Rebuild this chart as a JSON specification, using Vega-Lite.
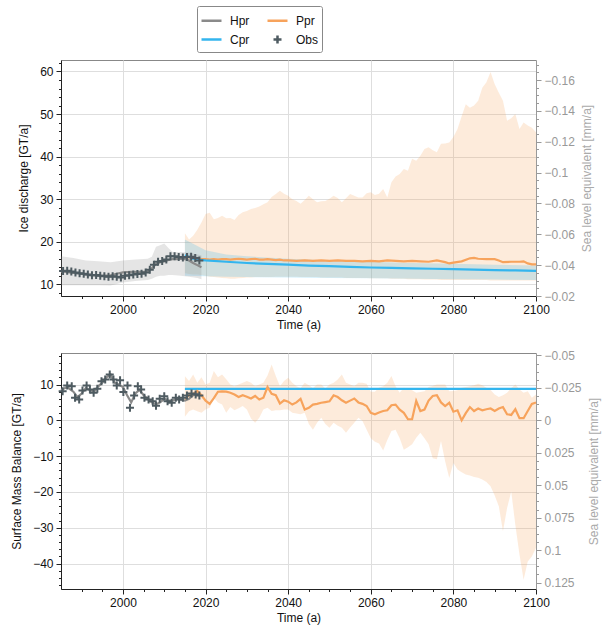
{
  "$schema": "https://vega.github.io/schema/vega-lite/v6.json",
  "padding": {"left": 10, "top": 5, "right": 5, "bottom": 5},
  "autosize": {"type": "pad"},
  "spacing": 57,
  "bounds": "flush",
  "datasets": {
    "topBands": [
      {"series":"Ppr","year":2015,"lo":12.6,"hi":22.0},{"series":"Ppr","year":2016,"lo":12.4,"hi":20.5},{"series":"Ppr","year":2017,"lo":12.3,"hi":21.4},{"series":"Ppr","year":2018,"lo":12.3,"hi":22.8},{"series":"Ppr","year":2019,"lo":12.2,"hi":24.5},{"series":"Ppr","year":2020,"lo":12.0,"hi":26.5},{"series":"Ppr","year":2021,"lo":11.8,"hi":26.8},{"series":"Ppr","year":2022,"lo":11.7,"hi":25.3},{"series":"Ppr","year":2023,"lo":11.6,"hi":25.6},{"series":"Ppr","year":2024,"lo":11.5,"hi":26.1},{"series":"Ppr","year":2025,"lo":11.4,"hi":25.5},{"series":"Ppr","year":2026,"lo":11.3,"hi":25.6},{"series":"Ppr","year":2027,"lo":11.3,"hi":25.1},{"series":"Ppr","year":2028,"lo":11.4,"hi":26.3},{"series":"Ppr","year":2029,"lo":11.5,"hi":26.9},{"series":"Ppr","year":2030,"lo":11.6,"hi":27.2},{"series":"Ppr","year":2031,"lo":11.6,"hi":27.7},{"series":"Ppr","year":2032,"lo":11.7,"hi":27.9},{"series":"Ppr","year":2033,"lo":11.7,"hi":28.3},{"series":"Ppr","year":2034,"lo":11.7,"hi":28.8},{"series":"Ppr","year":2035,"lo":11.7,"hi":29.3},{"series":"Ppr","year":2036,"lo":11.7,"hi":30.5},{"series":"Ppr","year":2037,"lo":11.8,"hi":31.2},{"series":"Ppr","year":2038,"lo":11.8,"hi":32.0},{"series":"Ppr","year":2039,"lo":11.8,"hi":31.3},{"series":"Ppr","year":2040,"lo":11.8,"hi":30.8},{"series":"Ppr","year":2041,"lo":11.8,"hi":30.0},{"series":"Ppr","year":2042,"lo":11.8,"hi":29.6},{"series":"Ppr","year":2043,"lo":11.7,"hi":28.9},{"series":"Ppr","year":2044,"lo":11.7,"hi":29.8},{"series":"Ppr","year":2045,"lo":11.7,"hi":30.8},{"series":"Ppr","year":2046,"lo":11.7,"hi":30.0},{"series":"Ppr","year":2047,"lo":11.7,"hi":29.3},{"series":"Ppr","year":2048,"lo":11.6,"hi":29.5},{"series":"Ppr","year":2049,"lo":11.6,"hi":29.6},{"series":"Ppr","year":2050,"lo":11.6,"hi":30.1},{"series":"Ppr","year":2051,"lo":11.6,"hi":30.8},{"series":"Ppr","year":2052,"lo":11.6,"hi":30.3},{"series":"Ppr","year":2053,"lo":11.6,"hi":29.3},{"series":"Ppr","year":2054,"lo":11.5,"hi":30.2},{"series":"Ppr","year":2055,"lo":11.5,"hi":31.2},{"series":"Ppr","year":2056,"lo":11.5,"hi":30.8},{"series":"Ppr","year":2057,"lo":11.5,"hi":30.4},{"series":"Ppr","year":2058,"lo":11.5,"hi":30.4},{"series":"Ppr","year":2059,"lo":11.5,"hi":31.4},{"series":"Ppr","year":2060,"lo":11.4,"hi":31.6},{"series":"Ppr","year":2061,"lo":11.4,"hi":31.0},{"series":"Ppr","year":2062,"lo":11.4,"hi":31.3},{"series":"Ppr","year":2063,"lo":11.4,"hi":32.4},{"series":"Ppr","year":2064,"lo":11.4,"hi":30.4},{"series":"Ppr","year":2065,"lo":11.3,"hi":34.0},{"series":"Ppr","year":2066,"lo":11.3,"hi":35.3},{"series":"Ppr","year":2067,"lo":11.3,"hi":35.9},{"series":"Ppr","year":2068,"lo":11.3,"hi":37.1},{"series":"Ppr","year":2069,"lo":11.2,"hi":36.7},{"series":"Ppr","year":2070,"lo":11.2,"hi":39.5},{"series":"Ppr","year":2071,"lo":11.2,"hi":39.0},{"series":"Ppr","year":2072,"lo":11.2,"hi":40.2},{"series":"Ppr","year":2073,"lo":11.1,"hi":41.8},{"series":"Ppr","year":2074,"lo":11.1,"hi":42.2},{"series":"Ppr","year":2075,"lo":11.1,"hi":41.5},{"series":"Ppr","year":2076,"lo":11.1,"hi":41.0},{"series":"Ppr","year":2077,"lo":11.0,"hi":43.0},{"series":"Ppr","year":2078,"lo":11.0,"hi":43.1},{"series":"Ppr","year":2079,"lo":11.0,"hi":43.3},{"series":"Ppr","year":2080,"lo":11.0,"hi":44.6},{"series":"Ppr","year":2081,"lo":11.0,"hi":46.5},{"series":"Ppr","year":2082,"lo":11.0,"hi":49.5},{"series":"Ppr","year":2083,"lo":11.0,"hi":52.3},{"series":"Ppr","year":2084,"lo":11.0,"hi":51.5},{"series":"Ppr","year":2085,"lo":11.0,"hi":52.0},{"series":"Ppr","year":2086,"lo":11.0,"hi":53.1},{"series":"Ppr","year":2087,"lo":11.0,"hi":56.2},{"series":"Ppr","year":2088,"lo":11.0,"hi":57.5},{"series":"Ppr","year":2089,"lo":10.9,"hi":59.9},{"series":"Ppr","year":2090,"lo":10.9,"hi":57.0},{"series":"Ppr","year":2091,"lo":10.9,"hi":55.0},{"series":"Ppr","year":2092,"lo":10.9,"hi":53.1},{"series":"Ppr","year":2093,"lo":10.9,"hi":48.4},{"series":"Ppr","year":2094,"lo":10.9,"hi":49.0},{"series":"Ppr","year":2095,"lo":10.9,"hi":50.0},{"series":"Ppr","year":2096,"lo":10.9,"hi":46.5},{"series":"Ppr","year":2097,"lo":10.9,"hi":48.0},{"series":"Ppr","year":2098,"lo":10.9,"hi":47.3},{"series":"Ppr","year":2099,"lo":10.9,"hi":46.8},{"series":"Ppr","year":2100,"lo":10.9,"hi":45.7},
      {"series":"Cpr","year":2015,"lo":12.0,"hi":20.5},{"series":"Cpr","year":2020,"lo":11.9,"hi":18.0},{"series":"Cpr","year":2025,"lo":11.8,"hi":17.0},{"series":"Cpr","year":2030,"lo":11.7,"hi":16.6},{"series":"Cpr","year":2040,"lo":11.6,"hi":16.0},{"series":"Cpr","year":2050,"lo":11.5,"hi":15.6},{"series":"Cpr","year":2060,"lo":11.4,"hi":15.3},{"series":"Cpr","year":2070,"lo":11.3,"hi":15.0},{"series":"Cpr","year":2080,"lo":11.2,"hi":14.8},{"series":"Cpr","year":2090,"lo":11.1,"hi":14.6},{"series":"Cpr","year":2100,"lo":11.0,"hi":14.4},
      {"series":"Hpr","year":1985,"lo":9.8,"hi":16.6},{"series":"Hpr","year":1988,"lo":9.8,"hi":16.2},{"series":"Hpr","year":1991,"lo":9.8,"hi":15.6},{"series":"Hpr","year":1994,"lo":9.8,"hi":15.4},{"series":"Hpr","year":1997,"lo":9.7,"hi":15.2},{"series":"Hpr","year":2000,"lo":10.4,"hi":15.6},{"series":"Hpr","year":2003,"lo":10.8,"hi":15.8},{"series":"Hpr","year":2006,"lo":11.0,"hi":16.0},{"series":"Hpr","year":2007,"lo":11.3,"hi":16.5},{"series":"Hpr","year":2008,"lo":11.8,"hi":18.8},{"series":"Hpr","year":2009,"lo":12.0,"hi":19.2},{"series":"Hpr","year":2010,"lo":12.0,"hi":19.6},{"series":"Hpr","year":2011,"lo":12.2,"hi":18.5},{"series":"Hpr","year":2012,"lo":12.2,"hi":17.6},{"series":"Hpr","year":2014,"lo":12.0,"hi":17.6},{"series":"Hpr","year":2016,"lo":11.8,"hi":17.4},{"series":"Hpr","year":2018,"lo":11.5,"hi":17.0},{"series":"Hpr","year":2019,"lo":11.2,"hi":16.8}
    ],
    "topLines": [
      {"series":"Hpr","year":1985,"value":13.0},{"series":"Hpr","year":1987,"value":12.8},{"series":"Hpr","year":1989,"value":12.6},{"series":"Hpr","year":1991,"value":12.3},{"series":"Hpr","year":1993,"value":12.1},{"series":"Hpr","year":1995,"value":12.0},{"series":"Hpr","year":1997,"value":12.1},{"series":"Hpr","year":1999,"value":12.6},{"series":"Hpr","year":2000,"value":12.8},{"series":"Hpr","year":2002,"value":12.9},{"series":"Hpr","year":2004,"value":12.9},{"series":"Hpr","year":2006,"value":13.0},{"series":"Hpr","year":2007,"value":13.8},{"series":"Hpr","year":2008,"value":14.8},{"series":"Hpr","year":2009,"value":15.2},{"series":"Hpr","year":2010,"value":15.4},{"series":"Hpr","year":2011,"value":15.7},{"series":"Hpr","year":2012,"value":15.9},{"series":"Hpr","year":2013,"value":15.9},{"series":"Hpr","year":2014,"value":16.0},{"series":"Hpr","year":2015,"value":15.9},{"series":"Hpr","year":2016,"value":15.6},{"series":"Hpr","year":2017,"value":15.0},{"series":"Hpr","year":2018,"value":14.5},{"series":"Hpr","year":2019,"value":14.0},
      {"series":"Ppr","year":2015,"value":16.6},{"series":"Ppr","year":2016,"value":16.3},{"series":"Ppr","year":2017,"value":16.1},{"series":"Ppr","year":2018,"value":16.0},{"series":"Ppr","year":2019,"value":15.9},{"series":"Ppr","year":2020,"value":15.9},{"series":"Ppr","year":2021,"value":15.8},{"series":"Ppr","year":2022,"value":15.9},{"series":"Ppr","year":2023,"value":15.8},{"series":"Ppr","year":2024,"value":15.9},{"series":"Ppr","year":2025,"value":15.9},{"series":"Ppr","year":2026,"value":15.8},{"series":"Ppr","year":2027,"value":15.9},{"series":"Ppr","year":2028,"value":16.0},{"series":"Ppr","year":2029,"value":15.9},{"series":"Ppr","year":2030,"value":15.8},{"series":"Ppr","year":2031,"value":15.9},{"series":"Ppr","year":2032,"value":16.0},{"series":"Ppr","year":2033,"value":15.8},{"series":"Ppr","year":2034,"value":15.8},{"series":"Ppr","year":2035,"value":15.9},{"series":"Ppr","year":2036,"value":15.8},{"series":"Ppr","year":2037,"value":15.7},{"series":"Ppr","year":2038,"value":15.8},{"series":"Ppr","year":2039,"value":15.6},{"series":"Ppr","year":2040,"value":15.6},{"series":"Ppr","year":2042,"value":15.5},{"series":"Ppr","year":2044,"value":15.6},{"series":"Ppr","year":2046,"value":15.5},{"series":"Ppr","year":2048,"value":15.6},{"series":"Ppr","year":2050,"value":15.5},{"series":"Ppr","year":2052,"value":15.6},{"series":"Ppr","year":2054,"value":15.5},{"series":"Ppr","year":2056,"value":15.5},{"series":"Ppr","year":2058,"value":15.4},{"series":"Ppr","year":2060,"value":15.5},{"series":"Ppr","year":2062,"value":15.4},{"series":"Ppr","year":2064,"value":15.6},{"series":"Ppr","year":2066,"value":15.5},{"series":"Ppr","year":2068,"value":15.4},{"series":"Ppr","year":2070,"value":15.5},{"series":"Ppr","year":2072,"value":15.4},{"series":"Ppr","year":2074,"value":15.3},{"series":"Ppr","year":2076,"value":15.6},{"series":"Ppr","year":2078,"value":15.2},{"series":"Ppr","year":2079,"value":14.9},{"series":"Ppr","year":2080,"value":15.1},{"series":"Ppr","year":2082,"value":15.4},{"series":"Ppr","year":2084,"value":16.1},{"series":"Ppr","year":2085,"value":16.2},{"series":"Ppr","year":2086,"value":16.0},{"series":"Ppr","year":2088,"value":15.9},{"series":"Ppr","year":2090,"value":15.9},{"series":"Ppr","year":2091,"value":15.6},{"series":"Ppr","year":2092,"value":15.2},{"series":"Ppr","year":2094,"value":15.3},{"series":"Ppr","year":2096,"value":15.3},{"series":"Ppr","year":2097,"value":15.4},{"series":"Ppr","year":2098,"value":14.9},{"series":"Ppr","year":2099,"value":14.7},{"series":"Ppr","year":2100,"value":14.7},
      {"series":"Cpr","year":2015,"value":16.8},{"series":"Cpr","year":2016,"value":16.4},{"series":"Cpr","year":2017,"value":16.0},{"series":"Cpr","year":2018,"value":15.8},{"series":"Cpr","year":2020,"value":15.6},{"series":"Cpr","year":2025,"value":15.3},{"series":"Cpr","year":2030,"value":15.0},{"series":"Cpr","year":2035,"value":14.8},{"series":"Cpr","year":2040,"value":14.6},{"series":"Cpr","year":2045,"value":14.4},{"series":"Cpr","year":2050,"value":14.25},{"series":"Cpr","year":2055,"value":14.1},{"series":"Cpr","year":2060,"value":13.95},{"series":"Cpr","year":2065,"value":13.85},{"series":"Cpr","year":2070,"value":13.75},{"series":"Cpr","year":2075,"value":13.65},{"series":"Cpr","year":2080,"value":13.55},{"series":"Cpr","year":2085,"value":13.45},{"series":"Cpr","year":2090,"value":13.35},{"series":"Cpr","year":2095,"value":13.25},{"series":"Cpr","year":2100,"value":13.15}
    ],
    "topObs": [
      {"series":"Obs","year":1985.5,"value":13.1},{"series":"Obs","year":1986.5,"value":13.2},{"series":"Obs","year":1987.5,"value":13.0},{"series":"Obs","year":1988.5,"value":12.8},{"series":"Obs","year":1989.5,"value":12.6},{"series":"Obs","year":1990.5,"value":12.5},{"series":"Obs","year":1991.5,"value":12.3},{"series":"Obs","year":1992.5,"value":12.1},{"series":"Obs","year":1993.5,"value":12.2},{"series":"Obs","year":1994.5,"value":12.0},{"series":"Obs","year":1995.5,"value":11.9},{"series":"Obs","year":1996.5,"value":11.8},{"series":"Obs","year":1997.5,"value":11.9},{"series":"Obs","year":1998.5,"value":11.8},{"series":"Obs","year":1999.5,"value":11.6},{"series":"Obs","year":2000.5,"value":12.0},{"series":"Obs","year":2001.5,"value":12.1},{"series":"Obs","year":2002.5,"value":12.3},{"series":"Obs","year":2003.5,"value":12.4},{"series":"Obs","year":2004.5,"value":12.5},{"series":"Obs","year":2005.5,"value":12.8},{"series":"Obs","year":2006.5,"value":13.4},{"series":"Obs","year":2007.5,"value":14.6},{"series":"Obs","year":2008.5,"value":15.3},{"series":"Obs","year":2009.5,"value":15.5},{"series":"Obs","year":2010.5,"value":15.8},{"series":"Obs","year":2011.5,"value":16.6},{"series":"Obs","year":2012.5,"value":16.6},{"series":"Obs","year":2013.5,"value":16.4},{"series":"Obs","year":2014.5,"value":16.3},{"series":"Obs","year":2015.5,"value":16.4},{"series":"Obs","year":2016.5,"value":16.5},{"series":"Obs","year":2017.5,"value":16.2},{"series":"Obs","year":2018.5,"value":15.6}
    ],
    "botBands": [
      {"series":"Ppr","year":2015,"lo":1.0,"hi":12.3},{"series":"Ppr","year":2016,"lo":2.5,"hi":11.0},{"series":"Ppr","year":2017,"lo":3.0,"hi":12.8},{"series":"Ppr","year":2018,"lo":2.5,"hi":10.5},{"series":"Ppr","year":2019,"lo":2.1,"hi":12.0},{"series":"Ppr","year":2020,"lo":3.0,"hi":10.0},{"series":"Ppr","year":2021,"lo":3.5,"hi":10.5},{"series":"Ppr","year":2022,"lo":6.3,"hi":13.8},{"series":"Ppr","year":2023,"lo":5.0,"hi":12.0},{"series":"Ppr","year":2024,"lo":4.4,"hi":12.8},{"series":"Ppr","year":2025,"lo":2.1,"hi":11.5},{"series":"Ppr","year":2026,"lo":3.7,"hi":10.0},{"series":"Ppr","year":2027,"lo":2.8,"hi":9.5},{"series":"Ppr","year":2028,"lo":3.4,"hi":10.0},{"series":"Ppr","year":2029,"lo":4.0,"hi":10.5},{"series":"Ppr","year":2030,"lo":3.0,"hi":11.0},{"series":"Ppr","year":2031,"lo":0.5,"hi":10.5},{"series":"Ppr","year":2032,"lo":-0.7,"hi":9.5},{"series":"Ppr","year":2033,"lo":0.7,"hi":10.0},{"series":"Ppr","year":2034,"lo":3.0,"hi":10.5},{"series":"Ppr","year":2035,"lo":3.5,"hi":12.5},{"series":"Ppr","year":2036,"lo":2.6,"hi":15.6},{"series":"Ppr","year":2037,"lo":2.8,"hi":12.4},{"series":"Ppr","year":2038,"lo":2.8,"hi":9.5},{"series":"Ppr","year":2039,"lo":3.0,"hi":11.0},{"series":"Ppr","year":2040,"lo":3.0,"hi":11.9},{"series":"Ppr","year":2041,"lo":2.1,"hi":10.5},{"series":"Ppr","year":2042,"lo":1.9,"hi":9.5},{"series":"Ppr","year":2043,"lo":1.7,"hi":9.0},{"series":"Ppr","year":2044,"lo":2.1,"hi":10.5},{"series":"Ppr","year":2045,"lo":-1.0,"hi":9.8},{"series":"Ppr","year":2046,"lo":-2.6,"hi":9.0},{"series":"Ppr","year":2047,"lo":-0.7,"hi":10.0},{"series":"Ppr","year":2048,"lo":0.7,"hi":10.0},{"series":"Ppr","year":2049,"lo":-1.0,"hi":8.9},{"series":"Ppr","year":2050,"lo":-2.1,"hi":10.0},{"series":"Ppr","year":2051,"lo":-0.7,"hi":10.5},{"series":"Ppr","year":2052,"lo":-1.5,"hi":11.4},{"series":"Ppr","year":2053,"lo":-2.1,"hi":12.8},{"series":"Ppr","year":2054,"lo":-3.5,"hi":10.5},{"series":"Ppr","year":2055,"lo":-2.0,"hi":10.0},{"series":"Ppr","year":2056,"lo":-0.7,"hi":9.5},{"series":"Ppr","year":2057,"lo":0.7,"hi":10.5},{"series":"Ppr","year":2058,"lo":-0.2,"hi":10.5},{"series":"Ppr","year":2059,"lo":-2.6,"hi":10.2},{"series":"Ppr","year":2060,"lo":-5.0,"hi":8.0},{"series":"Ppr","year":2061,"lo":-6.0,"hi":8.0},{"series":"Ppr","year":2062,"lo":-6.5,"hi":9.2},{"series":"Ppr","year":2063,"lo":-8.4,"hi":9.5},{"series":"Ppr","year":2064,"lo":-5.5,"hi":10.5},{"series":"Ppr","year":2065,"lo":-3.0,"hi":12.4},{"series":"Ppr","year":2066,"lo":-2.6,"hi":9.5},{"series":"Ppr","year":2067,"lo":-5.0,"hi":7.7},{"series":"Ppr","year":2068,"lo":-8.2,"hi":9.1},{"series":"Ppr","year":2069,"lo":-7.5,"hi":8.8},{"series":"Ppr","year":2070,"lo":-6.7,"hi":8.4},{"series":"Ppr","year":2071,"lo":-4.9,"hi":7.7},{"series":"Ppr","year":2072,"lo":-3.5,"hi":7.9},{"series":"Ppr","year":2073,"lo":-5.0,"hi":8.1},{"series":"Ppr","year":2074,"lo":-6.7,"hi":9.3},{"series":"Ppr","year":2075,"lo":-10.6,"hi":9.6},{"series":"Ppr","year":2076,"lo":-10.9,"hi":10.0},{"series":"Ppr","year":2077,"lo":-5.8,"hi":10.0},{"series":"Ppr","year":2078,"lo":-11.4,"hi":10.0},{"series":"Ppr","year":2079,"lo":-16.1,"hi":8.1},{"series":"Ppr","year":2080,"lo":-11.9,"hi":8.2},{"series":"Ppr","year":2081,"lo":-13.7,"hi":8.4},{"series":"Ppr","year":2082,"lo":-14.5,"hi":9.1},{"series":"Ppr","year":2083,"lo":-15.1,"hi":9.3},{"series":"Ppr","year":2084,"lo":-15.4,"hi":9.5},{"series":"Ppr","year":2085,"lo":-15.8,"hi":9.8},{"series":"Ppr","year":2086,"lo":-16.0,"hi":10.2},{"series":"Ppr","year":2087,"lo":-16.5,"hi":9.8},{"series":"Ppr","year":2088,"lo":-17.2,"hi":9.1},{"series":"Ppr","year":2089,"lo":-18.4,"hi":8.5},{"series":"Ppr","year":2090,"lo":-21.0,"hi":7.2},{"series":"Ppr","year":2091,"lo":-24.0,"hi":6.5},{"series":"Ppr","year":2092,"lo":-31.0,"hi":7.0},{"series":"Ppr","year":2093,"lo":-24.5,"hi":7.7},{"series":"Ppr","year":2094,"lo":-19.9,"hi":9.0},{"series":"Ppr","year":2095,"lo":-29.2,"hi":10.0},{"series":"Ppr","year":2096,"lo":-37.5,"hi":8.6},{"series":"Ppr","year":2097,"lo":-44.5,"hi":7.7},{"series":"Ppr","year":2098,"lo":-39.4,"hi":8.1},{"series":"Ppr","year":2099,"lo":-38.0,"hi":6.3},{"series":"Ppr","year":2100,"lo":-35.6,"hi":7.2}
    ],
    "botLines": [
      {"series":"Hpr","year":1985,"value":8.5},{"series":"Hpr","year":1986.5,"value":9.3},{"series":"Hpr","year":1988,"value":8.0},{"series":"Hpr","year":1989,"value":6.5},{"series":"Hpr","year":1990,"value":7.5},{"series":"Hpr","year":1991,"value":9.0},{"series":"Hpr","year":1992,"value":8.5},{"series":"Hpr","year":1993,"value":8.0},{"series":"Hpr","year":1994,"value":9.5},{"series":"Hpr","year":1995,"value":10.5},{"series":"Hpr","year":1996,"value":12.0},{"series":"Hpr","year":1997,"value":12.8},{"series":"Hpr","year":1998,"value":10.5},{"series":"Hpr","year":1999,"value":10.0},{"series":"Hpr","year":2000,"value":9.3},{"series":"Hpr","year":2001,"value":7.0},{"series":"Hpr","year":2002,"value":5.0},{"series":"Hpr","year":2003,"value":7.5},{"series":"Hpr","year":2004,"value":8.5},{"series":"Hpr","year":2005,"value":7.0},{"series":"Hpr","year":2006,"value":6.0},{"series":"Hpr","year":2007,"value":5.0},{"series":"Hpr","year":2008,"value":4.5},{"series":"Hpr","year":2009,"value":5.0},{"series":"Hpr","year":2010,"value":6.0},{"series":"Hpr","year":2011,"value":5.5},{"series":"Hpr","year":2012,"value":5.5},{"series":"Hpr","year":2013,"value":6.0},{"series":"Hpr","year":2014,"value":5.8},{"series":"Hpr","year":2015,"value":5.5},{"series":"Hpr","year":2016,"value":6.0},{"series":"Hpr","year":2017,"value":7.0},{"series":"Hpr","year":2018,"value":7.5},{"series":"Hpr","year":2019,"value":7.0},
      {"series":"Cpr","year":2015,"value":8.8},{"series":"Cpr","year":2100,"value":8.8},
      {"series":"Ppr","year":2015,"value":6.0},{"series":"Ppr","year":2016,"value":7.0},{"series":"Ppr","year":2017,"value":7.3},{"series":"Ppr","year":2018,"value":8.2},{"series":"Ppr","year":2019,"value":7.0},{"series":"Ppr","year":2020,"value":5.5},{"series":"Ppr","year":2021,"value":4.6},{"series":"Ppr","year":2022,"value":6.2},{"series":"Ppr","year":2023,"value":8.0},{"series":"Ppr","year":2024,"value":8.1},{"series":"Ppr","year":2025,"value":8.0},{"series":"Ppr","year":2026,"value":7.7},{"series":"Ppr","year":2027,"value":7.2},{"series":"Ppr","year":2028,"value":6.5},{"series":"Ppr","year":2029,"value":7.0},{"series":"Ppr","year":2030,"value":6.6},{"series":"Ppr","year":2031,"value":6.1},{"series":"Ppr","year":2032,"value":6.8},{"series":"Ppr","year":2033,"value":5.8},{"series":"Ppr","year":2034,"value":6.3},{"series":"Ppr","year":2035,"value":9.3},{"series":"Ppr","year":2036,"value":7.4},{"series":"Ppr","year":2037,"value":7.0},{"series":"Ppr","year":2038,"value":4.7},{"series":"Ppr","year":2039,"value":5.6},{"series":"Ppr","year":2040,"value":5.2},{"series":"Ppr","year":2041,"value":4.4},{"series":"Ppr","year":2042,"value":5.0},{"series":"Ppr","year":2043,"value":6.0},{"series":"Ppr","year":2044,"value":3.0},{"series":"Ppr","year":2045,"value":3.5},{"series":"Ppr","year":2046,"value":4.4},{"series":"Ppr","year":2047,"value":4.6},{"series":"Ppr","year":2048,"value":4.9},{"series":"Ppr","year":2049,"value":5.1},{"series":"Ppr","year":2050,"value":5.3},{"series":"Ppr","year":2051,"value":7.0},{"series":"Ppr","year":2052,"value":6.5},{"series":"Ppr","year":2053,"value":5.6},{"series":"Ppr","year":2054,"value":4.9},{"series":"Ppr","year":2055,"value":5.5},{"series":"Ppr","year":2056,"value":6.1},{"series":"Ppr","year":2057,"value":5.0},{"series":"Ppr","year":2058,"value":4.6},{"series":"Ppr","year":2059,"value":4.0},{"series":"Ppr","year":2060,"value":2.1},{"series":"Ppr","year":2061,"value":1.7},{"series":"Ppr","year":2062,"value":2.2},{"series":"Ppr","year":2063,"value":2.6},{"series":"Ppr","year":2064,"value":2.8},{"series":"Ppr","year":2065,"value":4.2},{"series":"Ppr","year":2066,"value":4.4},{"series":"Ppr","year":2067,"value":3.0},{"series":"Ppr","year":2068,"value":2.1},{"series":"Ppr","year":2069,"value":0.3},{"series":"Ppr","year":2070,"value":0.3},{"series":"Ppr","year":2071,"value":5.4},{"series":"Ppr","year":2072,"value":2.6},{"series":"Ppr","year":2073,"value":3.0},{"series":"Ppr","year":2074,"value":5.5},{"series":"Ppr","year":2075,"value":6.8},{"series":"Ppr","year":2076,"value":7.0},{"series":"Ppr","year":2077,"value":5.0},{"series":"Ppr","year":2078,"value":4.0},{"series":"Ppr","year":2079,"value":4.9},{"series":"Ppr","year":2080,"value":2.4},{"series":"Ppr","year":2081,"value":2.8},{"series":"Ppr","year":2082,"value":0.0},{"series":"Ppr","year":2083,"value":2.0},{"series":"Ppr","year":2084,"value":3.7},{"series":"Ppr","year":2085,"value":2.6},{"series":"Ppr","year":2086,"value":3.3},{"series":"Ppr","year":2087,"value":2.8},{"series":"Ppr","year":2088,"value":3.1},{"series":"Ppr","year":2089,"value":3.3},{"series":"Ppr","year":2090,"value":2.6},{"series":"Ppr","year":2091,"value":3.3},{"series":"Ppr","year":2092,"value":3.7},{"series":"Ppr","year":2093,"value":1.7},{"series":"Ppr","year":2094,"value":1.5},{"series":"Ppr","year":2095,"value":3.1},{"series":"Ppr","year":2096,"value":0.6},{"series":"Ppr","year":2097,"value":0.6},{"series":"Ppr","year":2098,"value":2.6},{"series":"Ppr","year":2099,"value":4.6},{"series":"Ppr","year":2100,"value":5.0}
    ],
    "botObs": [
      {"series":"Obs","year":1985.4,"value":8.1},{"series":"Obs","year":1986.5,"value":9.7},{"series":"Obs","year":1987.6,"value":9.5},{"series":"Obs","year":1988.4,"value":6.3},{"series":"Obs","year":1989.4,"value":5.8},{"series":"Obs","year":1990.2,"value":8.3},{"series":"Obs","year":1991.2,"value":9.7},{"series":"Obs","year":1992.0,"value":8.6},{"series":"Obs","year":1992.9,"value":7.7},{"series":"Obs","year":1993.8,"value":8.8},{"series":"Obs","year":1994.8,"value":10.9},{"series":"Obs","year":1995.7,"value":11.4},{"series":"Obs","year":1996.8,"value":12.8},{"series":"Obs","year":1997.7,"value":11.4},{"series":"Obs","year":1998.5,"value":9.7},{"series":"Obs","year":1999.3,"value":11.2},{"series":"Obs","year":2000.1,"value":7.9},{"series":"Obs","year":2001.1,"value":9.7},{"series":"Obs","year":2001.7,"value":3.5},{"series":"Obs","year":2002.7,"value":6.9},{"series":"Obs","year":2003.6,"value":9.5},{"series":"Obs","year":2004.4,"value":8.6},{"series":"Obs","year":2005.2,"value":6.3},{"series":"Obs","year":2006.2,"value":5.8},{"series":"Obs","year":2007.2,"value":5.3},{"series":"Obs","year":2008.0,"value":4.1},{"series":"Obs","year":2008.9,"value":6.0},{"series":"Obs","year":2010.0,"value":6.7},{"series":"Obs","year":2010.8,"value":5.3},{"series":"Obs","year":2011.8,"value":4.9},{"series":"Obs","year":2012.8,"value":6.3},{"series":"Obs","year":2013.6,"value":5.8},{"series":"Obs","year":2014.5,"value":6.3},{"series":"Obs","year":2015.5,"value":6.9},{"series":"Obs","year":2016.6,"value":7.5},{"series":"Obs","year":2017.6,"value":7.2},{"series":"Obs","year":2018.5,"value":6.9}
    ]
  },
  "resolve": {"scale": {"color": "shared", "shape": "shared"}, "legend": {"color": "shared", "shape": "shared"}},
  "vconcat": [
    {
      "width": 475,
      "height": 236,
      "resolve": {"scale": {"y": "independent"}, "axis": {"y": "independent"}},
      "layer": [
        {
          "encoding": {
            "x": {"field": "year", "type": "quantitative", "scale": {"domain": [1985, 2100], "nice": false, "zero": false},
              "axis": {"title": "Time (a)", "values": [1990,1995,2000,2005,2010,2015,2020,2025,2030,2035,2040,2045,2050,2055,2060,2065,2070,2075,2080,2085,2090,2095,2100], "format": "d", "tickCount": 100,
                "labelExpr": "datum.value % 20 === 0 ? datum.label : ''",
                "tickSize": {"condition": {"test": "datum.value % 20 === 0", "value": 5}, "value": 2.5},
                "gridOpacity": {"condition": {"test": "datum.value % 20 === 0", "value": 1}, "value": 0},
                "grid": true, "labelFlush": false, "labelOverlap": false, "labelPadding": 3, "titlePadding": 4}}
          },
          "layer": [
            {
              "data": {"name": "topBands"},
              "mark": {"type": "area", "opacity": 0.22},
              "encoding": {
                "y": {"field": "lo", "type": "quantitative", "stack": null, "scale": {"domain": [7.25, 62.7], "nice": false, "zero": false},
                  "axis": {"title": "Ice discharge [GT/a]", "values": [8,10,12,14,16,18,20,22,24,26,28,30,32,34,36,38,40,42,44,46,48,50,52,54,56,58,60,62], "tickCount": 100, "format": "d",
                    "labelExpr": "datum.value % 10 === 0 ? datum.label : ''",
                    "tickSize": {"condition": {"test": "datum.value % 10 === 0", "value": 5}, "value": 2.5},
                    "gridOpacity": {"condition": {"test": "datum.value % 10 === 0", "value": 1}, "value": 0},
                    "grid": true, "labelOverlap": false, "labelFlush": false, "labelPadding": 3, "titlePadding": 9}},
                "y2": {"field": "hi"},
                "color": {"field": "series", "type": "nominal", "scale": {"domain": ["Hpr","Cpr","Ppr","Obs"], "range": ["#8a8a8a","#33b5ee","#f7a35c","#4e5b61"]},
                  "legend": {"title": null, "orient": "none", "legendX": 136, "legendY": -54, "columns": 2}}
              }
            },
            {
              "data": {"name": "topLines"},
              "mark": {"type": "line", "strokeWidth": 2.2},
              "encoding": {
                "y": {"field": "value", "type": "quantitative"},
                "color": {"field": "series", "type": "nominal", "legend": {"title": null, "orient": "none", "legendX": 136, "legendY": -54, "columns": 2}}
              }
            },
            {
              "data": {"name": "topObs"},
              "mark": {"type": "point", "filled": false, "size": 400, "strokeWidth": 2, "opacity": 1},
              "encoding": {
                "y": {"field": "value", "type": "quantitative"},
                "color": {"field": "series", "type": "nominal", "legend": {"title": null, "orient": "none", "legendX": 136, "legendY": -54, "columns": 2}},
                "shape": {"field": "series", "type": "nominal", "scale": {"domain": ["Hpr","Cpr","Ppr","Obs"], "range": ["M-1,0H1","M-1,0H1","M-1,0H1","M-0.4,0H0.4M0,-0.4V0.4"]},
                  "legend": {"title": null, "orient": "none", "legendX": 136, "legendY": -54, "columns": 2}}
              }
            }
          ]
        },
        {
          "data": {"values": [{}]},
          "mark": {"type": "rule", "opacity": 0},
          "encoding": {
            "y": {"datum": -0.05, "type": "quantitative", "scale": {"domain": [-0.17297, -0.02], "reverse": true, "nice": false, "zero": false},
              "axis": {"orient": "right", "title": "Sea level equivalent [mm/a]",
                "values": [-0.17,-0.165,-0.16,-0.155,-0.15,-0.145,-0.14,-0.135,-0.13,-0.125,-0.12,-0.115,-0.11,-0.105,-0.1,-0.095,-0.09,-0.085,-0.08,-0.075,-0.07,-0.065,-0.06,-0.055,-0.05,-0.045,-0.04,-0.035,-0.03,-0.025,-0.02],
                "format": ".2~f", "tickCount": 100,
                "labelExpr": "abs(round(datum.value*1000)) % 20 === 0 ? datum.label : ''",
                "tickSize": {"condition": {"test": "abs(round(datum.value*1000)) % 20 === 0", "value": 5}, "value": 2.5},
                "grid": false, "labelOverlap": false, "labelFlush": false,
                "domainColor": "#999", "tickColor": "#999", "labelColor": "#999", "titleColor": "#aaa",
                "titleAngle": 270, "titleBaseline": "top", "labelPadding": 3, "titlePadding": 7}}
          }
        }
      ]
    },
    {
      "width": 475,
      "height": 236,
      "resolve": {"scale": {"y": "independent"}, "axis": {"y": "independent"}},
      "layer": [
        {
          "encoding": {
            "x": {"field": "year", "type": "quantitative", "scale": {"domain": [1985, 2100], "nice": false, "zero": false},
              "axis": {"title": "Time (a)", "values": [1990,1995,2000,2005,2010,2015,2020,2025,2030,2035,2040,2045,2050,2055,2060,2065,2070,2075,2080,2085,2090,2095,2100], "format": "d", "tickCount": 100,
                "labelExpr": "datum.value % 20 === 0 ? datum.label : ''",
                "tickSize": {"condition": {"test": "datum.value % 20 === 0", "value": 5}, "value": 2.5},
                "gridOpacity": {"condition": {"test": "datum.value % 20 === 0", "value": 1}, "value": 0},
                "grid": true, "labelFlush": false, "labelOverlap": false, "labelPadding": 3, "titlePadding": 4}}
          },
          "layer": [
            {
              "data": {"name": "botBands"},
              "mark": {"type": "area", "opacity": 0.22},
              "encoding": {
                "y": {"field": "lo", "type": "quantitative", "stack": null, "scale": {"domain": [-47.1, 18.8], "nice": false, "zero": false},
                  "axis": {"title": "Surface Mass Balance [GT/a]", "values": [-46,-44,-42,-40,-38,-36,-34,-32,-30,-28,-26,-24,-22,-20,-18,-16,-14,-12,-10,-8,-6,-4,-2,0,2,4,6,8,10,12,14,16,18], "tickCount": 100, "format": "d",
                    "labelExpr": "datum.value % 10 === 0 ? datum.label : ''",
                    "tickSize": {"condition": {"test": "datum.value % 10 === 0", "value": 5}, "value": 2.5},
                    "gridOpacity": {"condition": {"test": "datum.value % 10 === 0", "value": 1}, "value": 0},
                    "grid": true, "labelOverlap": false, "labelFlush": false, "labelPadding": 3, "titlePadding": 9}},
                "y2": {"field": "hi"},
                "color": {"field": "series", "type": "nominal", "legend": null}
              }
            },
            {
              "data": {"name": "botLines"},
              "mark": {"type": "line", "strokeWidth": 2.2},
              "encoding": {
                "y": {"field": "value", "type": "quantitative"},
                "color": {"field": "series", "type": "nominal", "legend": null}
              }
            },
            {
              "data": {"name": "botObs"},
              "mark": {"type": "point", "filled": false, "size": 400, "strokeWidth": 2, "opacity": 1},
              "encoding": {
                "y": {"field": "value", "type": "quantitative"},
                "color": {"field": "series", "type": "nominal", "legend": null},
                "shape": {"field": "series", "type": "nominal", "legend": null}
              }
            }
          ]
        },
        {
          "data": {"values": [{}]},
          "mark": {"type": "rule", "opacity": 0},
          "encoding": {
            "y": {"datum": 0, "type": "quantitative", "scale": {"domain": [-0.05186, 0.12993], "reverse": true, "nice": false, "zero": false},
              "axis": {"orient": "right", "title": "Sea level equivalent [mm/a]",
                "values": [-0.05,-0.04375,-0.0375,-0.03125,-0.025,-0.01875,-0.0125,-0.00625,0,0.00625,0.0125,0.01875,0.025,0.03125,0.0375,0.04375,0.05,0.05625,0.0625,0.06875,0.075,0.08125,0.0875,0.09375,0.1,0.10625,0.1125,0.11875,0.125],
                "format": ".3~f", "tickCount": 100,
                "labelExpr": "abs(round(datum.value*1000)) % 25 === 0 ? datum.label : ''",
                "tickSize": {"condition": {"test": "abs(round(datum.value*1000)) % 25 === 0", "value": 5}, "value": 2.5},
                "grid": false, "labelOverlap": false, "labelFlush": false,
                "domainColor": "#999", "tickColor": "#999", "labelColor": "#999", "titleColor": "#aaa",
                "titleAngle": 270, "titleBaseline": "top", "labelPadding": 3, "titlePadding": 7}}
          }
        }
      ]
    }
  ],
  "config": {
    "font": "Liberation Sans",
    "view": {"stroke": "#888", "strokeWidth": 1},
    "axis": {"labelFont": "Liberation Sans", "titleFont": "Liberation Sans", "labelFontSize": 12, "titleFontSize": 12, "titleFontWeight": "normal", "labelColor": "#111", "titleColor": "#111", "domainColor": "#222", "tickColor": "#222", "gridColor": "#dedede", "gridWidth": 1},
    "legend": {"labelFont": "Liberation Sans", "labelFontSize": 12, "labelColor": "#111", "padding": 3, "strokeColor": "#888", "fillColor": "white", "cornerRadius": 2, "symbolSize": 400, "symbolStrokeWidth": 2.5, "symbolOpacity": 1, "rowPadding": 1, "columnPadding": 12, "labelOffset": 7}
  }
}
